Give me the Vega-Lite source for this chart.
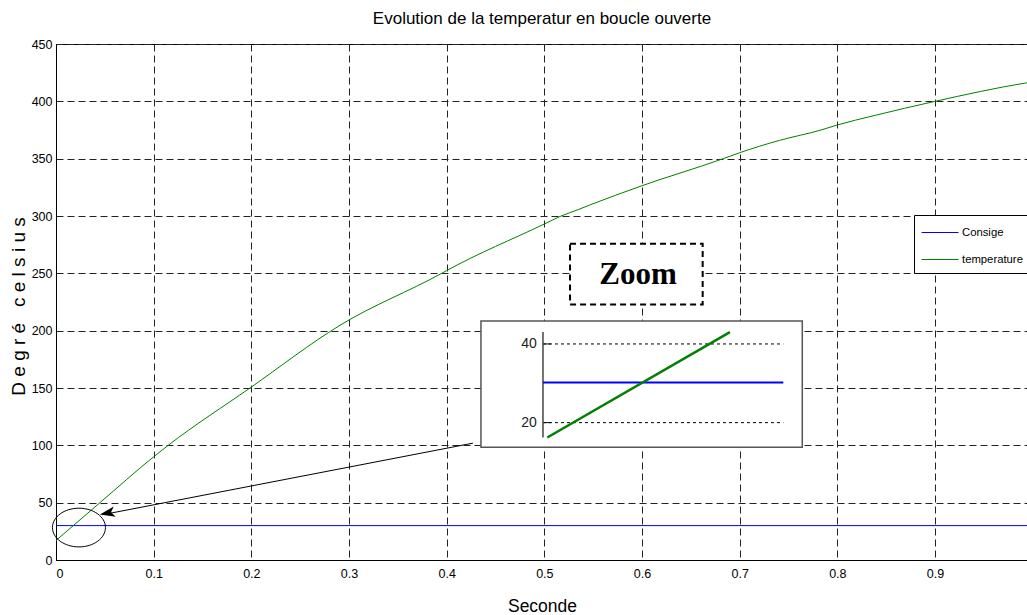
{
  "$schema": "https://vega.github.io/schema/vega-lite/v6.json",
  "width": 972,
  "height": 516,
  "autosize": {"type": "none"},
  "padding": {"left": 56, "top": 44, "right": 0, "bottom": 55},
  "background": "white",
  "title": {
    "text": "Evolution de la temperatur en boucle ouverte",
    "font": "Liberation Sans, Arial",
    "fontSize": 17,
    "fontWeight": "normal",
    "color": "black",
    "anchor": "middle",
    "offset": 10
  },
  "config": {
    "view": {"stroke": "black", "strokeWidth": 1},
    "axis": {
      "labelFont": "Liberation Sans, Arial",
      "labelFontSize": 12.5,
      "labelColor": "black",
      "titleFont": "Liberation Sans, Arial",
      "titleFontSize": 17.5,
      "titleFontWeight": "normal",
      "titleColor": "black",
      "domainColor": "black",
      "domainWidth": 1,
      "ticks": false,
      "gridColor": "#222222",
      "gridDash": [7, 4],
      "gridWidth": 1,
      "gridOpacity": 1
    },
    "legend": {
      "orient": "none",
      "legendX": 858,
      "legendY": 171,
      "strokeColor": "black",
      "fillColor": "white",
      "padding": 8,
      "symbolType": "M -1.1 0 L 3 0",
      "symbolSize": 324,
      "symbolStrokeWidth": 1,
      "labelFont": "Liberation Sans, Arial",
      "labelFontSize": 11.3,
      "labelColor": "black",
      "labelOffset": 21,
      "rowPadding": 12
    }
  },
  "layer": [
    {
      "data": {"values": [
        {"temps": 0, "valeur": 30, "serie": "Consige"},
        {"temps": 1, "valeur": 30, "serie": "Consige"},
        {"temps": 0, "valeur": 17, "serie": "temperature"},
        {"temps": 0.0177, "valeur": 30, "serie": "temperature"},
        {"temps": 0.045, "valeur": 50, "serie": "temperature"},
        {"temps": 0.1, "valeur": 90, "serie": "temperature"},
        {"temps": 0.1149, "valeur": 100, "serie": "temperature"},
        {"temps": 0.1986, "valeur": 150, "serie": "temperature"},
        {"temps": 0.2908, "valeur": 204.7, "serie": "temperature"},
        {"temps": 0.3949, "valeur": 250, "serie": "temperature"},
        {"temps": 0.4, "valeur": 252.4, "serie": "temperature"},
        {"temps": 0.5, "valeur": 293, "serie": "temperature"},
        {"temps": 0.5172, "valeur": 300, "serie": "temperature"},
        {"temps": 0.5347, "valeur": 305.6, "serie": "temperature"},
        {"temps": 0.5463, "valeur": 309.5, "serie": "temperature"},
        {"temps": 0.6, "valeur": 326.4, "serie": "temperature"},
        {"temps": 0.6184, "valeur": 331.8, "serie": "temperature"},
        {"temps": 0.6389, "valeur": 337.4, "serie": "temperature"},
        {"temps": 0.6832, "valeur": 350, "serie": "temperature"},
        {"temps": 0.7, "valeur": 355.2, "serie": "temperature"},
        {"temps": 0.741, "valeur": 366, "serie": "temperature"},
        {"temps": 0.7833, "valeur": 375, "serie": "temperature"},
        {"temps": 0.8, "valeur": 379.4, "serie": "temperature"},
        {"temps": 0.8374, "valeur": 387.5, "serie": "temperature"},
        {"temps": 0.9, "valeur": 400, "serie": "temperature"},
        {"temps": 0.9927, "valeur": 416, "serie": "temperature"},
        {"temps": 1.0, "valeur": 417, "serie": "temperature"}
      ]},
      "mark": {"type": "line", "strokeWidth": 1, "clip": true, "interpolate": "monotone"},
      "encoding": {
        "x": {
          "field": "temps", "type": "quantitative",
          "scale": {"domain": [0, 0.9952], "nice": false, "zero": false},
          "axis": {
            "title": "Seconde",
            "values": [0, 0.1, 0.2, 0.3, 0.4, 0.5, 0.6, 0.7, 0.8, 0.9],
            "format": "~g",
            "labelPadding": 7,
            "grid": true,
            "titleY": 51,
            "titleBaseline": "alphabetic"
          }
        },
        "y": {
          "field": "valeur", "type": "quantitative",
          "scale": {"domain": [0, 450], "nice": false},
          "axis": {
            "title": "D e g r é \u00a0 c e l s i u s",
            "values": [0, 50, 100, 150, 200, 250, 300, 350, 400, 450],
            "labelPadding": 4,
            "grid": true,
            "titleFontSize": 19,
            "titleX": -38,
            "titleY": 262,
            "titleAngle": -90,
            "titleAlign": "center",
            "titleBaseline": "middle"
          }
        },
        "color": {
          "field": "serie", "type": "nominal",
          "scale": {"domain": ["Consige", "temperature"], "range": ["#0000ff", "#008000"]},
          "legend": {"title": null}
        }
      }
    },
    {
      "data": {"values": [{"temps": 0.0235, "valeur": 28.3}]},
      "mark": {"type": "point", "shape": "M -1 0 A 1 0.73 0 1 0 1 0 A 1 0.73 0 1 0 -1 0 Z", "size": 2809, "filled": false, "stroke": "black", "strokeWidth": 1, "opacity": 1},
      "encoding": {
        "x": {"field": "temps", "type": "quantitative"},
        "y": {"field": "valeur", "type": "quantitative"}
      }
    },
    {
      "data": {"values": [{"temps": 0.4269, "valeur": 101.9, "temps_fin": 0.047, "valeur_fin": 39.4}]},
      "mark": {"type": "rule", "color": "black", "strokeWidth": 1},
      "encoding": {
        "x": {"field": "temps", "type": "quantitative"},
        "y": {"field": "valeur", "type": "quantitative"},
        "x2": {"field": "temps_fin"},
        "y2": {"field": "valeur_fin"}
      }
    },
    {
      "data": {"values": [{"temps": 0.045, "valeur": 39.7}]},
      "mark": {"type": "point", "shape": "M 0 0 L 2 -0.7 L 1.5 0 L 2 0.7 Z", "size": 225, "filled": true, "fill": "black", "stroke": null, "opacity": 1, "angle": 349.2},
      "encoding": {
        "x": {"field": "temps", "type": "quantitative"},
        "y": {"field": "valeur", "type": "quantitative"}
      }
    },
    {
      "data": {"values": [{"temps": 0.4351, "temps_fin": 0.7641, "valeur": 98.3, "valeur_fin": 208.4}]},
      "mark": {"type": "rect", "fill": "white", "stroke": "#555555", "strokeWidth": 1.5},
      "encoding": {
        "x": {"field": "temps", "type": "quantitative"},
        "y": {"field": "valeur", "type": "quantitative"},
        "x2": {"field": "temps_fin"},
        "y2": {"field": "valeur_fin"}
      }
    },
    {
      "data": {"values": [
        {"temps": 0.4986, "temps_fin": 0.7447, "valeur": 188.4},
        {"temps": 0.4986, "temps_fin": 0.7447, "valeur": 119.8}
      ]},
      "mark": {"type": "rule", "color": "black", "strokeWidth": 1, "strokeDash": [3, 3]},
      "encoding": {
        "x": {"field": "temps", "type": "quantitative"},
        "y": {"field": "valeur", "type": "quantitative"},
        "x2": {"field": "temps_fin"}
      }
    },
    {
      "data": {"values": [
        {"temps": 0.4986, "temps_fin": 0.5068, "valeur": 188.4},
        {"temps": 0.4986, "temps_fin": 0.5068, "valeur": 119.8}
      ]},
      "mark": {"type": "rule", "color": "black", "strokeWidth": 1},
      "encoding": {
        "x": {"field": "temps", "type": "quantitative"},
        "y": {"field": "valeur", "type": "quantitative"},
        "x2": {"field": "temps_fin"}
      }
    },
    {
      "data": {"values": [{"temps": 0.4986, "valeur": 106.8, "valeur_fin": 198.8}]},
      "mark": {"type": "rule", "color": "#444444", "strokeWidth": 1.5},
      "encoding": {
        "x": {"field": "temps", "type": "quantitative"},
        "y": {"field": "valeur", "type": "quantitative"},
        "y2": {"field": "valeur_fin"}
      }
    },
    {
      "data": {"values": [{"temps": 0.4986, "temps_fin": 0.7447, "valeur": 154.7}]},
      "mark": {"type": "rule", "color": "#0000ff", "strokeWidth": 2},
      "encoding": {
        "x": {"field": "temps", "type": "quantitative"},
        "y": {"field": "valeur", "type": "quantitative"},
        "x2": {"field": "temps_fin"}
      }
    },
    {
      "data": {"values": [{"temps": 0.503, "valeur": 106.8, "temps_fin": 0.690, "valeur_fin": 198.8}]},
      "mark": {"type": "rule", "color": "#008000", "strokeWidth": 2.5},
      "encoding": {
        "x": {"field": "temps", "type": "quantitative"},
        "y": {"field": "valeur", "type": "quantitative"},
        "x2": {"field": "temps_fin"},
        "y2": {"field": "valeur_fin"}
      }
    },
    {
      "data": {"values": [
        {"temps": 0.4922, "valeur": 188.4, "texte": "40"},
        {"temps": 0.4922, "valeur": 119.8, "texte": "20"}
      ]},
      "mark": {"type": "text", "align": "right", "baseline": "middle", "font": "Liberation Sans, Arial", "fontSize": 14, "color": "#222222"},
      "encoding": {
        "x": {"field": "temps", "type": "quantitative"},
        "y": {"field": "valeur", "type": "quantitative"},
        "text": {"field": "texte"}
      }
    },
    {
      "data": {"values": [{"temps": 0.5263, "temps_fin": 0.6621, "valeur": 222.9, "valeur_fin": 275.9}]},
      "mark": {"type": "rect", "fill": "white", "stroke": "black", "strokeWidth": 2, "strokeDash": [6, 4]},
      "encoding": {
        "x": {"field": "temps", "type": "quantitative"},
        "y": {"field": "valeur", "type": "quantitative"},
        "x2": {"field": "temps_fin"},
        "y2": {"field": "valeur_fin"}
      }
    },
    {
      "data": {"values": [{"temps": 0.5959, "valeur": 240.4, "texte": "Zoom"}]},
      "mark": {"type": "text", "align": "center", "baseline": "alphabetic", "font": "Liberation Serif, Times New Roman, serif", "fontWeight": "bold", "fontSize": 31, "color": "black"},
      "encoding": {
        "x": {"field": "temps", "type": "quantitative"},
        "y": {"field": "valeur", "type": "quantitative"},
        "text": {"field": "texte"}
      }
    }
  ]
}
